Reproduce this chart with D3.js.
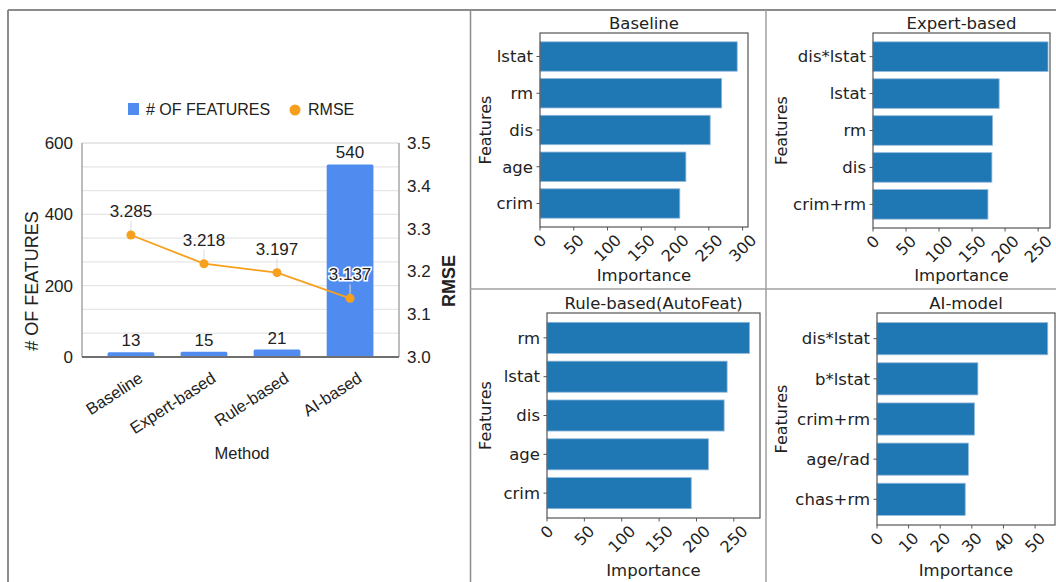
<!DOCTYPE html>
<html>
<head>
<meta charset="utf-8">
<title>Feature engineering comparison</title>
<style>
  body { margin: 0; background: #fff; }
  svg text { fill: #222; }
  .sheet text { font-family: "Liberation Sans", Arial, sans-serif; }
  .mpl text { font-family: "DejaVu Sans", sans-serif; }
</style>
</head>
<body>
<script src="https://d3js.org/d3.v7.min.js"></script>
<script>

/* ---- left chart data ---- */
var methods = ["Baseline", "Expert-based", "Rule-based", "AI-based"];
var featureCounts = [13, 15, 21, 540];
var rmseValues = [3.285, 3.218, 3.197, 3.137];
var featureTicks = [0, 200, 400, 600];
var rmseTicks = [3.0, 3.1, 3.2, 3.3, 3.4, 3.5];

/* ---- importance panels data ---- */
var baselineFeatures = ["lstat", "rm", "dis", "age", "crim"];
var baselineImportance = [292, 269, 252, 216, 207];
var baselineTicks = [0, 50, 100, 150, 200, 250, 300];

var expertFeatures = ["dis*lstat", "lstat", "rm", "dis", "crim+rm"];
var expertImportance = [265, 191, 181, 180, 174];
var expertTicks = [0, 50, 100, 150, 200, 250];

var ruleFeatures = ["rm", "lstat", "dis", "age", "crim"];
var ruleImportance = [271, 241, 237, 216, 193];
var ruleTicks = [0, 50, 100, 150, 200, 250];

var aiFeatures = ["dis*lstat", "b*lstat", "crim+rm", "age/rad", "chas+rm"];
var aiImportance = [54, 31.9, 30.8, 28.9, 27.9];
var aiTicks = [0, 10, 20, 30, 40, 50];

var W = 1056, H = 582;
var blue = "#508cf0", orange = "#f6a01e", mplBlue = "#1f77b4";
var fs = "16.5px";

var svg = d3.select("body").append("svg")
	.attr("width", W)
	.attr("height", H);

/* ---- frame lines ---- */
var frame = svg.append("g").attr("stroke", "#8c8c8c").attr("fill", "none");
frame.append("line").attr("x1", 8).attr("x2", W).attr("y1", 10).attr("y2", 10).attr("stroke-width", 2);
frame.append("line").attr("x1", 8).attr("x2", 8).attr("y1", 10).attr("y2", H).attr("stroke-width", 2);
frame.append("line").attr("x1", 470.5).attr("x2", 470.5).attr("y1", 10).attr("y2", H).attr("stroke-width", 1.5);
frame.append("line").attr("x1", 766).attr("x2", 766).attr("y1", 10).attr("y2", H).attr("stroke-width", 1.5).attr("stroke", "#a0a0a0");
frame.append("line").attr("x1", 470).attr("x2", W).attr("y1", 289).attr("y2", 289).attr("stroke-width", 1.5).attr("stroke", "#a0a0a0");

/* ================= left combo chart ================= */
var left = svg.append("g").attr("class", "sheet");
var plot = {left: 82, right: 399, top: 143, bottom: 357};

var x = d3.scaleBand().domain(methods)
	.range([plot.left, plot.right])
	.paddingInner(0.36).paddingOuter(0.35);
var yCount = d3.scaleLinear().domain([0, 600]).range([plot.bottom, plot.top]);
var yRmse = d3.scaleLinear().domain([3.0, 3.5]).range([plot.bottom, plot.top]);

// gridlines (major + 2 minor between each major)
left.append("g").selectAll("line")
	.data(d3.range(1, 10).map(function(i) { return 600 * i / 9; }))
	.enter().append("line")
	.attr("x1", plot.left).attr("x2", plot.right)
	.attr("y1", function(d) { return yCount(d); })
	.attr("y2", function(d) { return yCount(d); })
	.attr("stroke", function(d, i) { return i == 8 ? "#cfcfcf" : "#e6e6e6"; })
	.attr("stroke-width", 1.2);

left.append("line").attr("x1", plot.left).attr("x2", plot.left)
	.attr("y1", plot.top).attr("y2", plot.bottom).attr("stroke", "#9a9a9a").attr("stroke-width", 1.3);
left.append("line").attr("x1", plot.right).attr("x2", plot.right)
	.attr("y1", plot.top).attr("y2", plot.bottom).attr("stroke", "#9a9a9a").attr("stroke-width", 1.3);

// axes
var axL = left.append("g")
	.attr("transform", "translate(" + plot.left + ",0)")
	.call(d3.axisLeft(yCount).tickValues(featureTicks).tickSize(0).tickPadding(9));
var axR = left.append("g")
	.attr("transform", "translate(" + plot.right + ",0)")
	.call(d3.axisRight(yRmse).tickValues(rmseTicks).tickFormat(d3.format(".1f")).tickSize(0).tickPadding(8));
[axL, axR].forEach(function(a) {
	a.select(".domain").remove();
	a.selectAll("text").style("font-size", "17px").style("font-family", "'Liberation Sans', Arial, sans-serif").attr("fill", "#1a1a1a");
});

// bars
left.append("g").selectAll("rect")
	.data(featureCounts)
	.enter().append("rect")
	.attr("x", function(d, i) { return x(methods[i]); })
	.attr("width", x.bandwidth())
	.attr("y", function(d) { return yCount(d); })
	.attr("height", function(d) { return plot.bottom - yCount(d); })
	.attr("rx", 1.5)
	.attr("fill", blue);

left.append("line").attr("x1", plot.left).attr("x2", plot.right)
	.attr("y1", plot.bottom).attr("y2", plot.bottom).attr("stroke", "#6f6f6f").attr("stroke-width", 2);

left.append("g").selectAll("text")
	.data(featureCounts)
	.enter().append("text")
	.attr("x", function(d, i) { return x(methods[i]) + x.bandwidth() / 2; })
	.attr("y", function(d) { return yCount(d) - 6; })
	.attr("text-anchor", "middle")
	.style("font-size", "17px")
	.text(function(d) { return d; });

// rmse line
var cx = function(i) { return x(methods[i]) + x.bandwidth() / 2; };

left.append("g").selectAll("line")
	.data(rmseValues)
	.enter().append("line")
	.attr("x1", function(d, i) { return cx(i); })
	.attr("x2", function(d, i) { return cx(i); })
	.attr("y1", function(d) { return yRmse(d) - 14; })
	.attr("y2", function(d) { return yRmse(d) - 4; })
	.attr("stroke", "#dcdcdc");

left.append("path")
	.datum(rmseValues)
	.attr("fill", "none")
	.attr("stroke", orange)
	.attr("stroke-width", 1.8)
	.attr("d", d3.line().x(function(d, i) { return cx(i); }).y(function(d) { return yRmse(d); }));

left.append("g").selectAll("circle")
	.data(rmseValues)
	.enter().append("circle")
	.attr("cx", function(d, i) { return cx(i); })
	.attr("cy", function(d) { return yRmse(d); })
	.attr("r", 4.5)
	.attr("fill", orange);

left.append("g").selectAll("text")
	.data(rmseValues)
	.enter().append("text")
	.attr("x", function(d, i) { return cx(i); })
	.attr("y", function(d) { return yRmse(d) - 18; })
	.attr("text-anchor", "middle")
	.style("font-size", "17px")
	.style("paint-order", "stroke")
	.attr("stroke", "#fff")
	.attr("stroke-width", function(d, i) { return i == 3 ? 3 : 0; })
	.text(function(d) { return d3.format(".3f")(d); });

// x tick labels
left.append("g").selectAll("text")
	.data(methods)
	.enter().append("text")
	.attr("transform", function(d) {
		return "translate(" + (x(d) + x.bandwidth() / 2 + 13) + ",381) rotate(-33)";
	})
	.attr("text-anchor", "end")
	.style("font-size", fs)
	.text(function(d) { return d; });

left.append("text")
	.attr("x", 242).attr("y", 459)
	.attr("text-anchor", "middle")
	.style("font-size", fs)
	.text("Method");

left.append("text")
	.attr("transform", "translate(38,281) rotate(-90)")
	.attr("text-anchor", "middle")
	.style("font-size", "18px")
	.text("# OF FEATURES");

left.append("text")
	.attr("transform", "translate(455,281) rotate(-90)")
	.attr("text-anchor", "middle")
	.style("font-size", "18px")
	.style("font-weight", "bold")
	.text("RMSE");

// legend
var legend = left.append("g");
legend.append("rect").attr("x", 128).attr("y", 103).attr("width", 11).attr("height", 12).attr("fill", blue);
legend.append("text").attr("x", 146).attr("y", 115).style("font-size", "16px").text("# OF FEATURES");
legend.append("circle").attr("cx", 295).attr("cy", 110).attr("r", 5.5).attr("fill", orange);
legend.append("text").attr("x", 308).attr("y", 115).style("font-size", "16px").text("RMSE");

/* ================= importance panels ================= */
function drawPanel(box, title, features, values, ticks, xmax) {
	var g = svg.append("g").attr("class", "mpl");

	var sx = d3.scaleLinear().domain([0, xmax]).range([box.x0, box.x1]);
	var sy = d3.scaleLinear().domain([-0.64, features.length - 1 + 0.64]).range([box.y0, box.y1]);

	g.selectAll("rect.bar")
		.data(values)
		.enter().append("rect")
		.attr("class", "bar")
		.attr("x", sx(0))
		.attr("width", function(d) { return sx(d) - sx(0); })
		.attr("y", function(d, i) { return sy(i - 0.4); })
		.attr("height", function(d, i) { return sy(i + 0.4) - sy(i - 0.4); })
		.attr("fill", mplBlue)
		.attr("stroke", "#8fb8da")
		.attr("stroke-width", 0.8);

	g.append("rect")
		.attr("x", box.x0).attr("y", box.y0)
		.attr("width", box.x1 - box.x0).attr("height", box.y1 - box.y0)
		.attr("fill", "none").attr("stroke", "#555").attr("stroke-width", 1.2);

	// y ticks
	var yt = g.append("g").selectAll("g")
		.data(features)
		.enter().append("g")
		.attr("transform", function(d, i) { return "translate(" + box.x0 + "," + sy(i) + ")"; });
	yt.append("line").attr("x1", -3.5).attr("x2", 0).attr("stroke", "#555");
	yt.append("text")
		.attr("x", -7).attr("dy", "0.35em")
		.attr("text-anchor", "end")
		.style("font-size", "16.5px")
		.text(function(d) { return d; });

	// x ticks, rotated 45 degrees and centred under the tick
	var xt = g.append("g").selectAll("g")
		.data(ticks)
		.enter().append("g")
		.attr("transform", function(d) { return "translate(" + sx(d) + "," + box.y1 + ")"; });
	xt.append("line").attr("y1", 0).attr("y2", 3.5).attr("stroke", "#555");
	xt.append("text")
		.attr("text-anchor", "middle")
		.attr("dy", "0.35em")
		.style("font-size", "16px")
		.text(function(d) { return d; })
		.attr("transform", function() {
			var w = this.getComputedTextLength();
			var h = 0.75 * 16;
			var hh = (w + h) * Math.SQRT1_2;
			return "translate(0," + (6 + hh / 2) + ") rotate(-45)";
		});

	g.append("text")
		.attr("x", (box.x0 + box.x1) / 2).attr("y", box.y0 - 4)
		.attr("text-anchor", "middle")
		.style("font-size", "16.5px")
		.text(title);

	g.append("text")
		.attr("x", (box.x0 + box.x1) / 2).attr("y", box.labelY)
		.attr("text-anchor", "middle")
		.style("font-size", "16.5px")
		.text("Importance");

	g.append("text")
		.attr("transform", "translate(" + box.featX + "," + ((box.y0 + box.y1) / 2) + ") rotate(-90)")
		.attr("text-anchor", "middle")
		.style("font-size", "16px")
		.text("Features");
}

drawPanel({x0: 540, x1: 748, y0: 33, y1: 227, labelY: 281, featX: 491},
	"Baseline", baselineFeatures, baselineImportance, baselineTicks, 308);
drawPanel({x0: 873, x1: 1050, y0: 33, y1: 228, labelY: 281, featX: 787},
	"Expert-based", expertFeatures, expertImportance, expertTicks, 268);
drawPanel({x0: 547, x1: 760, y0: 313, y1: 518, labelY: 576, featX: 491},
	"Rule-based(AutoFeat)", ruleFeatures, ruleImportance, ruleTicks, 285);
drawPanel({x0: 877, x1: 1055, y0: 313, y1: 525, labelY: 576, featX: 787},
	"AI-model", aiFeatures, aiImportance, aiTicks, 56.3);

</script>
</body>
</html>
